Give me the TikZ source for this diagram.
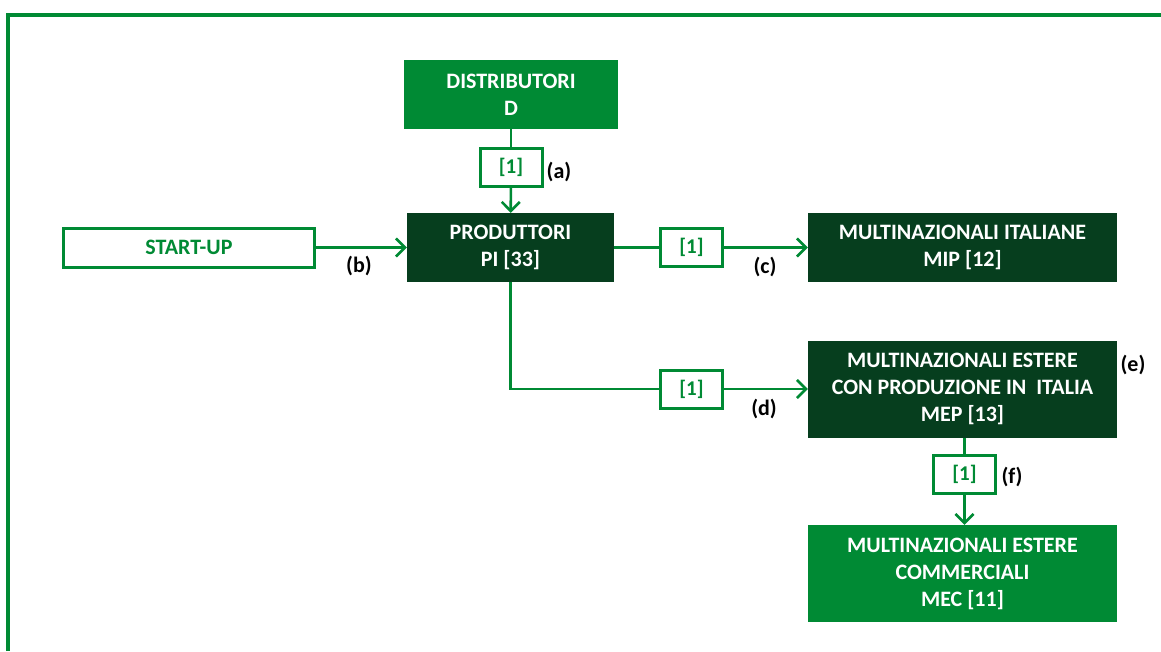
\documentclass[tikz,border=0pt]{standalone}
\usepackage{fontspec}
\setmainfont{Carlito}
\usetikzlibrary{arrows.meta}

\definecolor{lightgreen}{RGB}{0,138,52}
\definecolor{darkgreen}{RGB}{6,62,30}

\tikzset{
  box/.style={inner sep=0pt, align=center, font=\fontsize{22}{27}\selectfont\bfseries},
  fullbox/.style={box, fill=lightgreen, text=white},
  darkbox/.style={box, fill=darkgreen, text=white},
  openbox/.style={box, draw=lightgreen, line width=3pt, fill=white, text=lightgreen},
  countbox/.style={openbox, minimum width=62pt, minimum height=38pt, font=\fontsize{21}{25}\selectfont\bfseries},
  link/.style={draw=lightgreen, line width=2.6pt},
  tag/.style={inner sep=0pt, font=\fontsize{22}{26}\selectfont\bfseries, text=black},
}

\begin{document}
\begin{tikzpicture}[x=1pt, y=-1pt, >={Straight Barb[length=9pt, width=18pt]}]
            \useasboundingbox (0,0) rectangle (1161,651);

            % Frame
            \draw[lightgreen, line width=3.5pt] (8,651) -- (8,15) -- (1161,15);

            % Boxes
            \node[fullbox, minimum width=214pt, minimum height=69pt] (dist) at (511,94.5) {DISTRIBUTORI\\D};
            \node[darkbox, minimum width=207pt, minimum height=69pt] (prod) at (510.5,247.5) {PRODUTTORI\\PI [33]};
            \node[openbox, minimum width=251pt, minimum height=39pt] (start) at (189,247.5) {START-UP};
            \node[darkbox, minimum width=309pt, minimum height=69pt] (mip) at (962.5,247.5) {MULTINAZIONALI ITALIANE\\MIP [12]};
            \node[darkbox, minimum width=309pt, minimum height=97pt] (mep) at (962.5,389) {MULTINAZIONALI ESTERE\\CON PRODUZIONE IN\ \ ITALIA\\MEP [13]};
            \node[fullbox, minimum width=309pt, minimum height=97pt] (mec) at (962.5,573.5) {MULTINAZIONALI ESTERE\\COMMERCIALI\\MEC [11]};

            % Counts on the links
            \node[countbox] (cntA) at (511,167.5) {[1]};
            \node[countbox] (cntC) at (691.5,247.5) {[1]};
            \node[countbox] (cntD) at (691.5,389) {[1]};
            \node[countbox] (cntF) at (964.5,474.5) {[1]};

            % Links
            \draw[link] (dist) -- (cntA);
            \draw[link, ->] (cntA) -- (prod);
            \draw[link, ->] (start) -- (prod);
            \draw[link] (prod) -- (cntC);
            \draw[link, ->] (cntC) -- (mip);
            \draw[link] (prod.south) |- (cntD.west);
            \draw[link, ->] (cntD) -- (mep);
            \draw[link] (cntF.north |- mep.south) -- (cntF.north);
            \draw[link, ->] (cntF.south) -- (cntF.south |- mec.north);

            % Letters
            \node[tag] (tagA) at (559,172) {(a)};
            \node[tag] (tagB) at (359,266) {(b)};
            \node[tag] (tagC) at (765,267) {(c)};
            \node[tag] (tagD) at (764,409) {(d)};
            \node[tag] (tagE) at (1133,365) {(e)};
            \node[tag] (tagF) at (1012,477) {(f)};
        \end{tikzpicture}
\end{document}
